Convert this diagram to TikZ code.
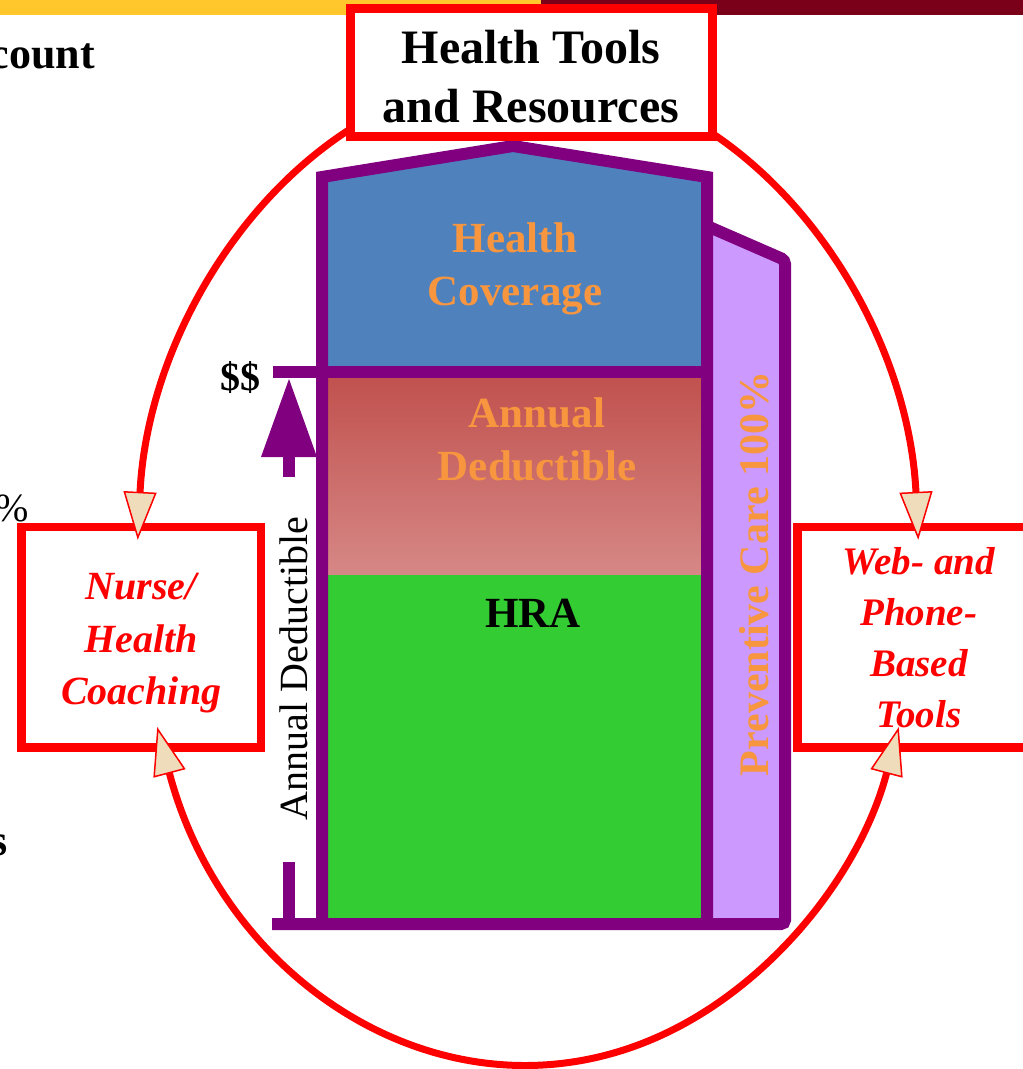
\documentclass[tikz,border=0pt]{standalone}
\usepackage{fontspec}
\setmainfont{Liberation Serif}
\usetikzlibrary{arrows.meta,calc}
\definecolor{barYellow}{HTML}{FFC72C}
\definecolor{barRed}{HTML}{7A0019}
\definecolor{bldPurple}{HTML}{800080}
\definecolor{lavender}{HTML}{CC99FF}
\definecolor{covBlue}{HTML}{4F81BD}
\definecolor{hraGreen}{HTML}{33CC33}
\definecolor{dedTop}{HTML}{C0504D}
\definecolor{dedBot}{HTML}{D68886}
\definecolor{txtOrange}{HTML}{F7963F}
\definecolor{tipBeige}{HTML}{EEDCBA}
\tikzset{
  outline/.style={draw=bldPurple, line width=12pt},
  redbox/.style={draw=red, line width=8.5pt, fill=white, rectangle, inner sep=0pt},
  boxtext/.style={inner sep=0pt, text=red, font=\fontsize{40}{52.5}\selectfont\bfseries\itshape, align=center},
  ellarc/.style={draw=red, line width=7pt},
  endtip/.style={-{Triangle[length=48pt,width=33pt,fill=tipBeige,line width=1.5pt]}},
  bothtips/.style={{Triangle[length=48pt,width=33pt,fill=tipBeige,line width=1.5pt]}-{Triangle[length=48pt,width=33pt,fill=tipBeige,line width=1.5pt]}},
  covtext/.style={inner sep=0pt, text=txtOrange, font=\fontsize{43}{53}\selectfont\bfseries, align=center},
  hratext/.style={inner sep=0pt, text=black, font=\fontsize{43}{53}\selectfont\bfseries},
  prevtext/.style={inner sep=0pt, text=txtOrange, font=\fontsize{42}{50}\selectfont\bfseries},
  dimtext/.style={inner sep=0pt, text=black, font=\fontsize{40}{48}\selectfont},
  dollar/.style={inner sep=0pt, text=black, font=\fontsize{40}{48}\selectfont\bfseries},
  lefttext/.style={inner sep=0pt, text=black, font=\fontsize{44}{52}\selectfont\bfseries},
  pcttext/.style={inner sep=0pt, text=black, font=\fontsize{40}{48}\selectfont},
  titletext/.style={inner sep=0pt, text=black, font=\fontsize{48}{59}\selectfont\bfseries, align=center},
}
\begin{document}
\begin{tikzpicture}[x=1pt,y=-1pt]
\useasboundingbox (0,0) rectangle (1023,1069);
\clip (0,0) rectangle (1023,1069);
% top bars
\fill[barYellow] (0,0) rectangle (542,15);
\fill[barRed] (541,0) rectangle (1023,15);
% building fills
\fill[covBlue] (322,177) -- (513,146) -- (707,177) -- (707,372) -- (322,372) -- cycle;
\shade[top color=dedTop, bottom color=dedBot] (322,372) rectangle (707,575);
\fill[hraGreen] (322,575) rectangle (707,924);
\fill[lavender] (707,226) -- (785,260) -- (785,924) -- (707,924) -- cycle;
% building outlines
\draw[outline, line join=miter] (322,924) -- (322,177) -- (513,146) -- (707,177) -- (707,924);
\draw[outline, rounded corners=4pt] (707,226) -- (785,260) -- (785,924) -- (272,924);
\draw[outline] (273,372) -- (707,372);
\draw[outline] (289,862) -- (289,924);
\coordinate (arrowfoot) at (289,477);
\coordinate (arrowtop) at (289,379);
\draw[outline, -{Triangle[length=78pt,width=56pt,line width=0pt]}] (arrowfoot) -- (arrowtop);
% building texts
\node[covtext] (cov) at (515,268.5) {Health\\Coverage};
\node[covtext] (ded) at (537,439) {Annual\\Deductible};
\node[hratext] (hra) at (533,613) {HRA};
\node[prevtext, rotate=90] (prev) at (754,574) {Preventive Care 100\%};
\node[dimtext, rotate=90] (dimlab) at (293.5,668.5) {Annual Deductible};
\node[dollar, anchor=base] (dollars) at (240,390) {\$\$};
% cut-off texts at left
\node[lefttext, anchor=base east] (acct) at (95,68) {count};
\node[pcttext, anchor=base east] (pct) at (29,521) {\%};
\node[lefttext, anchor=base east] (plural) at (8,855) {s};
% side boxes
\node[redbox, minimum width=239.5pt, minimum height=220.5pt] (nurse) at (141.25,637.25) {};
\node[boxtext] (nursetext) at ([yshift=-6pt]nurse.center) {Nurse/\\Health\\Coaching};
\node[redbox, minimum width=242.5pt, minimum height=220.5pt, font=\fontsize{39}{51}\selectfont\bfseries\itshape, text=red, align=center] (web) at (918.75,637.25) {Web- and\\Phone-\\Based\\Tools};
% ellipse arcs
\coordinate (E) at (528,570);
\draw[ellarc, endtip] ($(E)+(-110:391 and 495)$) arc[start angle=-110, end angle=-176.5, x radius=391, y radius=495];
\draw[ellarc, endtip] ($(E)+(-70:391 and 495)$) arc[start angle=-70, end angle=-3.5, x radius=391, y radius=495];
\draw[ellarc, bothtips] ($(E)+(161.5:391 and 495)$) arc[start angle=161.5, end angle=18.5, x radius=391, y radius=495];
% title box
\node[redbox, line width=9pt, minimum width=362pt, minimum height=128pt] (title) at (531,72) {};
\node[titletext] (titletxt) at ([yshift=-5pt]title.center) {Health Tools\\and Resources};
\end{tikzpicture}
\end{document}
